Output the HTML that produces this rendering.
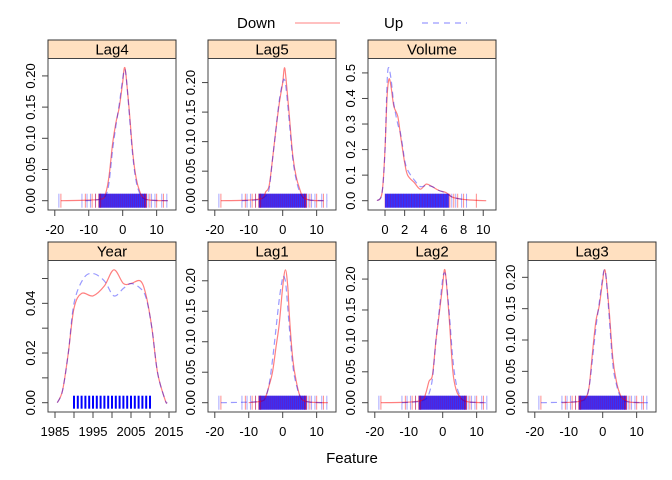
<!DOCTYPE html>
<html><head><meta charset="utf-8">
<style>
html,body{margin:0;padding:0;background:#fff;}
svg{display:block;font-family:"Liberation Sans",Arial,sans-serif;}
</style></head>
<body>
<svg id="chart" width="672" height="480" viewBox="0 0 672 480" xmlns="http://www.w3.org/2000/svg">
  <g>
    <text x="237" y="28" font-size="15">Down</text>
    <line x1="295" y1="23" x2="340" y2="23" stroke="#ff8080" stroke-width="1"/>
    <text x="384" y="28" font-size="15">Up</text>
    <line x1="422" y1="23" x2="467" y2="23" stroke="#8080ff" stroke-width="1" stroke-dasharray="6,5"/>
  </g>
  <text x="352" y="463" font-size="15" text-anchor="middle">Feature</text>
  <g id="panels"></g>
</svg>
<script>
// ---- data ----
const lag4Down = [[-18.2,0],[-10,0.001],[-6,0.003],[-5,0.012],[-4,0.04],[-3,0.09],[-2,0.125],[-1,0.15],[0,0.19],[0.5,0.213],[1,0.2],[2,0.14],[3,0.075],[4,0.035],[5,0.015],[6,0.005],[8,0.001],[13.3,0]];
const lag4Up   = [[-11,0],[-7,0.002],[-5,0.008],[-4,0.03],[-3,0.08],[-2,0.12],[-1,0.155],[0,0.195],[0.5,0.21],[1,0.2],[2,0.135],[3,0.07],[4,0.03],[5,0.012],[6,0.004],[8,0.001],[13.3,0]];
const lag5Down = [[-18.2,0],[-10,0.001],[-6,0.004],[-5,0.015],[-4,0.025],[-3,0.07],[-2,0.12],[-1,0.165],[0,0.2],[0.5,0.225],[1,0.205],[2,0.14],[3,0.075],[4,0.04],[5,0.02],[6,0.006],[8,0.001],[12,0]];
const lag5Up   = [[-12,0],[-7,0.002],[-5,0.008],[-4,0.02],[-3,0.07],[-2,0.12],[-1,0.17],[0,0.2],[0.5,0.205],[1,0.19],[2,0.13],[3,0.07],[4,0.035],[5,0.015],[6,0.005],[8,0.001],[13.3,0]];
const lag1Down = [[-10,0],[-6,0.003],[-5,0.01],[-4,0.028],[-3,0.05],[-2,0.09],[-1,0.13],[0,0.19],[0.8,0.218],[1.5,0.19],[2,0.14],[3,0.07],[4,0.035],[5,0.012],[6,0.004],[8,0.001],[13.3,0]];
const lag1Up   = [[-18.2,0],[-10,0.001],[-6,0.003],[-5,0.01],[-4,0.03],[-3,0.07],[-2,0.12],[-1,0.17],[0,0.205],[0.5,0.205],[1,0.19],[2,0.12],[3,0.06],[4,0.03],[5,0.012],[6,0.004],[8,0.001],[12,0]];
const lag2Down = [[-18.2,0],[-10,0.001],[-6,0.004],[-5,0.015],[-4,0.035],[-3,0.045],[-2,0.1],[-1,0.145],[0,0.19],[0.5,0.215],[1,0.2],[2,0.13],[3,0.05],[4,0.02],[5,0.01],[6,0.004],[8,0.001],[12,0]];
const lag2Up   = [[-12,0],[-7,0.002],[-5,0.006],[-4,0.015],[-3,0.04],[-2,0.1],[-1,0.15],[0,0.2],[0.5,0.21],[1,0.2],[2,0.14],[3,0.07],[4,0.03],[5,0.012],[6,0.004],[8,0.001],[13.3,0]];
const lag3Down = [[-12,0],[-7,0.002],[-5,0.008],[-4,0.025],[-3,0.08],[-2,0.13],[-1,0.155],[0,0.195],[0.5,0.212],[1,0.2],[2,0.14],[3,0.07],[4,0.035],[5,0.015],[6,0.006],[8,0.001],[12,0]];
const lag3Up   = [[-18.2,0],[-10,0.001],[-6,0.003],[-5,0.008],[-4,0.025],[-3,0.07],[-2,0.12],[-1,0.16],[0,0.2],[0.5,0.212],[1,0.2],[2,0.13],[3,0.06],[4,0.03],[5,0.012],[6,0.004],[8,0.001],[13.3,0]];
const volDown  = [[-0.8,0],[-0.3,0.03],[0,0.2],[0.2,0.4],[0.4,0.475],[0.6,0.45],[0.9,0.37],[1.3,0.33],[1.6,0.25],[2.0,0.15],[2.3,0.1],[3,0.07],[3.6,0.045],[4.2,0.065],[4.8,0.055],[5.5,0.04],[6.2,0.032],[6.8,0.015],[7.5,0.008],[8.5,0.003],[10.3,0]];
const volUp    = [[-0.8,0],[-0.3,0.03],[0,0.2],[0.2,0.45],[0.35,0.52],[0.6,0.48],[0.9,0.38],[1.3,0.3],[1.6,0.26],[2.0,0.16],[2.3,0.12],[3,0.08],[3.6,0.055],[4.2,0.06],[4.8,0.055],[5.5,0.04],[6.2,0.03],[6.8,0.015],[7.5,0.008],[8.3,0.002]];
const yearDown = [[1985.6,0],[1987,0.005],[1988.5,0.02],[1990,0.038],[1992,0.044],[1995,0.043],[1998,0.047],[2000.5,0.0535],[2003,0.048],[2005,0.048],[2007.5,0.049],[2009,0.043],[2010.5,0.03],[2012,0.012],[2014,0.001],[2014.5,0]];
const yearUp   = [[1985.6,0],[1987,0.005],[1988.5,0.02],[1990,0.04],[1992.5,0.05],[1995,0.052],[1998,0.049],[2000.5,0.043],[2003,0.046],[2005,0.048],[2007.5,0.046],[2009,0.042],[2010.5,0.03],[2012,0.012],[2014,0.001],[2014.5,0]];
const lagRugDown = [-18.2,-11,-9,-8,-7,-6.5,6.5,7,8,10,12];
const lagRugUp   = [-18.8,-12,-10.5,-9.5,-8,-7,-6.5,6.5,7.5,8.5,9.5,11.5,13];
const volRugDown = [6.6,7,7.4,8,9.3];
const volRugUp   = [6.8,7.2,7.8,8.3];
const years = [1990,1991,1992,1993,1994,1995,1996,1997,1998,1999,2000,2001,2002,2003,2004,2005,2006,2007,2008,2009,2010];
const lagXTicks = [-20,-10,0,10];
const lagYTicks = [0,0.05,0.10,0.15,0.20];
const volXTicks = [0,2,4,6,8,10];
const volYTicks = [0,0.1,0.2,0.3,0.4,0.5];
const yearXTicks = [1985,1990,1995,2000,2005,2010,2015];
const yearXLabels = [1985,1995,2005,2015];
const yearYTicks = [0,0.01,0.02,0.03,0.04,0.05];
const yearYLabels = [0,0.02,0.04];

const NS = "http://www.w3.org/2000/svg";
const root = document.getElementById("panels");
function mk(tag, attrs, parent){ const e=document.createElementNS(NS,tag); for(const k in attrs) e.setAttribute(k,attrs[k]); parent.appendChild(e); return e; }
function fmt(v, d){ return v.toFixed(d); }
function smoothPath(P){
  let d="M"+P[0][0].toFixed(1)+","+P[0][1].toFixed(1);
  for(let i=0;i<P.length-1;i++){
    const p0=P[Math.max(0,i-1)], p1=P[i], p2=P[i+1], p3=P[Math.min(P.length-1,i+2)];
    const c1x=p1[0]+(p2[0]-p0[0])/6, c1y=p1[1]+(p2[1]-p0[1])/6;
    const c2x=p2[0]-(p3[0]-p1[0])/6, c2y=p2[1]-(p3[1]-p1[1])/6;
    d+=" C"+c1x.toFixed(1)+","+c1y.toFixed(1)+" "+c2x.toFixed(1)+","+c2y.toFixed(1)+" "+p2[0].toFixed(1)+","+p2[1].toFixed(1);
  }
  return d;
}

const panels = [
  {name:"Lag4", x0:48,y0:40, xlim:[-22,15.7], down:lag4Down, up:lag4Up, xt:lagXTicks, xl:lagXTicks, yt:lagYTicks, yl:lagYTicks, yd:2, rd:lagRugDown, ru:lagRugUp, band:[-7,7]},
  {name:"Lag5", x0:208,y0:40, xlim:[-22,15.7], down:lag5Down, up:lag5Up, xt:lagXTicks, xl:lagXTicks, yt:lagYTicks, yl:lagYTicks, yd:2, rd:lagRugDown, ru:lagRugUp, band:[-7,7]},
  {name:"Volume", x0:368,y0:40, xlim:[-1.73,11.3], down:volDown, up:volUp, xt:volXTicks, xl:volXTicks, yt:volYTicks, yl:volYTicks, yd:1, rd:volRugDown, ru:volRugUp, band:[0,6.5]},
  {name:"Year", x0:48,y0:242, xlim:[1983.16,2016.84], down:yearDown, up:yearUp, xt:yearXTicks, xl:yearXLabels, yt:yearYTicks, yl:yearYLabels, yd:2, year:true},
  {name:"Lag1", x0:208,y0:242, xlim:[-22,15.7], down:lag1Down, up:lag1Up, xt:lagXTicks, xl:lagXTicks, yt:lagYTicks, yl:lagYTicks, yd:2, rd:lagRugDown, ru:lagRugUp, band:[-7,7]},
  {name:"Lag2", x0:368,y0:242, xlim:[-22,15.7], down:lag2Down, up:lag2Up, xt:lagXTicks, xl:lagXTicks, yt:lagYTicks, yl:lagYTicks, yd:2, rd:lagRugDown, ru:lagRugUp, band:[-7,7]},
  {name:"Lag3", x0:528,y0:242, xlim:[-22,15.7], down:lag3Down, up:lag3Up, xt:lagXTicks, xl:lagXTicks, yt:lagYTicks, yl:lagYTicks, yd:2, rd:lagRugDown, ru:lagRugUp, band:[-7,7]}
];

panels.forEach(p=>{
  const W=128, stripH=18.5, plotTop=p.y0+stripH, plotBot=p.y0+170;
  const g = mk("g",{},root);
  
  
  let m=0; p.down.concat(p.up).forEach(d=>{ if(d[1]>m) m=d[1]; });
  const ylo=-0.07*m, yhi=1.07*m;
  const sx = v => p.x0 + (v-p.xlim[0])/(p.xlim[1]-p.xlim[0])*W;
  const sy = v => plotBot - (v-ylo)/(yhi-ylo)*(plotBot-plotTop);
  const strip = mk("rect",{x:p.x0,y:p.y0,width:W,height:stripH,fill:"#ffe0c0",stroke:"#333","stroke-width":1},g);
  
  
  const st = mk("text",{x:p.x0+W/2,y:p.y0+14.5,"font-size":15,"text-anchor":"middle"},g);
  st.textContent=p.name;
  
  
  const cid="clip"+p.name;
  const cp=mk("clipPath",{id:cid},g); mk("rect",{x:p.x0,y:plotTop,width:W,height:plotBot-plotTop},cp);
  const inner=mk("g",{"clip-path":"url(#"+cid+")"},g);
  if(p.year){
    years.forEach(yv=>{
      const l=mk("line",{x1:sx(yv),x2:sx(yv),y1:sy(0)-7,y2:sy(0)+6,stroke:"#0000ff","stroke-width":2},inner);
      
      
    });
  } else {
    const y0=sy(0);
    const band=mk("rect",{x:sx(p.band[0]),y:y0-7,width:sx(p.band[1])-sx(p.band[0]),height:14,fill:"#0000ff","fill-opacity":0.8},inner);
    
    
    const bw=p.band[1]-p.band[0];
    for(let k=0;k<=24;k++){
      const v=p.band[0]+bw*k/24;
      const l=mk("line",{x1:sx(v),x2:sx(v),y1:y0-7,y2:y0+7,stroke:"#aa0066","stroke-opacity":0.35,"stroke-width":1},inner);
      
      
    }
    p.ru.forEach(v=>{
      const l=mk("line",{x1:sx(v),x2:sx(v),y1:y0-7,y2:y0+7,stroke:"#0000ff","stroke-opacity":0.35,"stroke-width":1},inner);
      
      
    });
    p.rd.forEach(v=>{
      const l=mk("line",{x1:sx(v),x2:sx(v),y1:y0-7,y2:y0+7,stroke:"#ff0000","stroke-opacity":0.45,"stroke-width":1},inner);
      
      
    });
  }
  const pts = arr => arr.map(d=>[sx(d[0]),sy(d[1])]);
  const cd=mk("path",{d:smoothPath(pts(p.down)),fill:"none",stroke:"#ff0000","stroke-opacity":0.5,"stroke-width":1.2},inner);
  
  
  const cu=mk("path",{d:smoothPath(pts(p.up)),fill:"none",stroke:"#0000ff","stroke-opacity":0.4,"stroke-width":1.2,"stroke-dasharray":"6,4"},inner);
  
  
  const fr=mk("rect",{x:p.x0,y:plotTop,width:W,height:plotBot-plotTop,fill:"none",stroke:"#444","stroke-width":1},g);
  
  
  p.xt.forEach(v=>{
    const t=mk("line",{x1:sx(v),x2:sx(v),y1:plotBot,y2:plotBot+6,stroke:"#444"},g);
    
    
  });
  p.xl.forEach(v=>{
    const t=mk("text",{x:sx(v),y:plotBot+24,"font-size":13,"text-anchor":"middle"},g);
    t.textContent=String(v);
    
    
  });
  p.yt.forEach(v=>{
    const t=mk("line",{x1:p.x0-6,x2:p.x0,y1:sy(v),y2:sy(v),stroke:"#444"},g);
    
    
  });
  p.yl.forEach(v=>{
    const x=p.x0-13, y=sy(v);
    const t=mk("text",{x:x,y:y,"font-size":13,"text-anchor":"middle",transform:"rotate(-90 "+x+" "+y+")"},g);
    t.textContent=fmt(v,p.yd);
    
    
  });
});
</script>
</body></html>
